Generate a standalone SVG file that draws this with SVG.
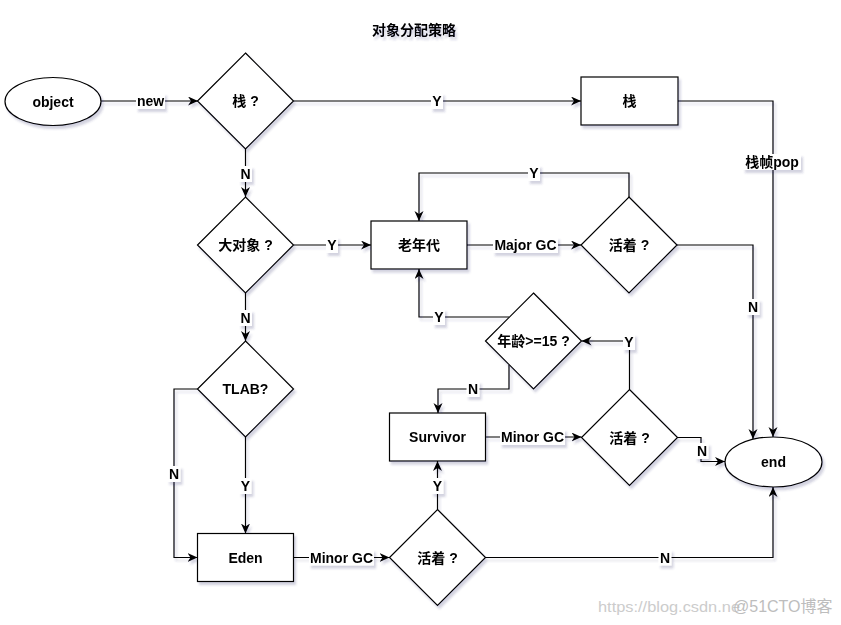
<svg xmlns="http://www.w3.org/2000/svg" width="841" height="625" viewBox="0 0 841 625">
<defs>
<filter id="sh" x="-5%" y="-5%" width="110%" height="110%">
<feDropShadow dx="2" dy="3" stdDeviation="1.2" flood-color="#3a3a70" flood-opacity="0.22"/>
</filter>
<marker id="arr" markerUnits="userSpaceOnUse" markerWidth="11" markerHeight="10" refX="10" refY="4.5" orient="auto">
<path d="M0,0 L10,4.5 L0,9 L3,4.5 Z" fill="#000"/>
</marker>
</defs>
<style>
.n{fill:#fff;stroke:#000;stroke-width:1.2}
.t{font-family:"Liberation Sans","Noto Sans CJK SC",sans-serif;font-size:14px;font-weight:bold;fill:#000;text-anchor:middle;dominant-baseline:central}
.e{fill:none;stroke:#000;stroke-width:1.2;marker-end:url(#arr)}
.lb{fill:#fff}
.wm{font-family:"Liberation Sans","Noto Sans CJK SC",sans-serif;font-size:15px;fill:#cccccc}
</style>
<rect width="841" height="625" fill="#fff"/>
<g filter="url(#sh)">
<text class="t" x="414" y="30">对象分配策略</text>
<g id="connectors">
<path class="e" d="M101,101 H198"/>
<path class="e" d="M293.5,101 H581"/>
<path class="e" d="M678,101 H773 V437"/>
<path class="e" d="M245.5,149 V197"/>
<path class="e" d="M293.5,245 H371"/>
<path class="e" d="M245.5,293 V341"/>
<path class="e" d="M467,245 H581"/>
<path class="e" d="M629,197 V173 H419 V221"/>
<path class="e" d="M677,245 H753 V439"/>
<path class="e" d="M509,317 H419 V269"/>
<path class="e" d="M509,365 V389 H438 V413"/>
<path class="e" d="M485.5,437 H581.5"/>
<path class="e" d="M629.5,389.5 V341 H581.5"/>
<path class="e" d="M677.5,437.5 H701 V461.5 H725"/>
<path class="e" d="M197.5,389 H174 V557.5 H197.5"/>
<path class="e" d="M245.5,437 V533.5"/>
<path class="e" d="M293.5,557.5 H389.5"/>
<path class="e" d="M437.5,509.5 V461"/>
<path class="e" d="M485.5,557.5 H773 V487"/>
<g id="labels">
<rect class="lb" x="136" y="93" width="29" height="16"/><text class="t" x="150.5" y="101">new</text>
<rect class="lb" x="431" y="93" width="12" height="16"/><text class="t" x="437" y="101">Y</text>
<rect class="lb" x="743" y="154" width="58" height="16"/><text class="t" x="772" y="162">栈帧pop</text>
<rect class="lb" x="239" y="166" width="13" height="16"/><text class="t" x="245.5" y="174">N</text>
<rect class="lb" x="326" y="237" width="12" height="16"/><text class="t" x="332" y="245">Y</text>
<rect class="lb" x="239" y="310" width="13" height="16"/><text class="t" x="245.5" y="318">N</text>
<rect class="lb" x="493" y="237" width="65" height="16"/><text class="t" x="525.5" y="245">Major GC</text>
<rect class="lb" x="528" y="165" width="12" height="16"/><text class="t" x="534" y="173">Y</text>
<rect class="lb" x="746.5" y="299" width="13" height="16"/><text class="t" x="753" y="307">N</text>
<rect class="lb" x="433" y="309" width="12" height="16"/><text class="t" x="439" y="317">Y</text>
<rect class="lb" x="466.5" y="381" width="13" height="16"/><text class="t" x="473" y="389">N</text>
<rect class="lb" x="500" y="429" width="65" height="16"/><text class="t" x="532.5" y="437">Minor GC</text>
<rect class="lb" x="623" y="334" width="12" height="16"/><text class="t" x="629" y="342">Y</text>
<rect class="lb" x="695.5" y="443" width="13" height="16"/><text class="t" x="702" y="451">N</text>
<rect class="lb" x="167.5" y="466" width="13" height="16"/><text class="t" x="174" y="474">N</text>
<rect class="lb" x="239.5" y="478" width="12" height="16"/><text class="t" x="245.5" y="486">Y</text>
<rect class="lb" x="309" y="549.5" width="65" height="16"/><text class="t" x="341.5" y="557.5">Minor GC</text>
<rect class="lb" x="431.5" y="478" width="12" height="16"/><text class="t" x="437.5" y="486">Y</text>
<rect class="lb" x="658.5" y="549.5" width="13" height="16"/><text class="t" x="665" y="557.5">N</text>
</g>
</g>
<g id="object"><ellipse class="n" cx="53" cy="101.5" rx="48" ry="24"/><text class="t" x="53" y="101.5">object</text></g>
<g id="stack-q"><path class="n" d="M245.5,53 L293.5,101 L245.5,149 L197.5,101 Z"/><text class="t" x="245.5" y="101">栈 ?</text></g>
<g id="stack"><rect class="n" x="581" y="77" width="97" height="48"/><text class="t" x="629.5" y="101">栈</text></g>
<g id="big-q"><path class="n" d="M245.5,197 L293.5,245 L245.5,293 L197.5,245 Z"/><text class="t" x="245.5" y="245">大对象 ?</text></g>
<g id="old"><rect class="n" x="371" y="221" width="96" height="48"/><text class="t" x="419" y="245">老年代</text></g>
<g id="alive1"><path class="n" d="M629,197 L677,245 L629,293 L581,245 Z"/><text class="t" x="629" y="245">活着 ?</text></g>
<g id="age-q"><path class="n" d="M533.5,293 L581.5,341 L533.5,389 L485.5,341 Z"/><text class="t" x="533.5" y="341">年龄&gt;=15 ?</text></g>
<g id="survivor"><rect class="n" x="389.5" y="413" width="96" height="48"/><text class="t" x="437.5" y="437">Survivor</text></g>
<g id="alive2"><path class="n" d="M629.5,389.5 L677.5,437.5 L629.5,485.5 L581.5,437.5 Z"/><text class="t" x="629.5" y="437.5">活着 ?</text></g>
<g id="end"><ellipse class="n" cx="773.5" cy="462" rx="48.5" ry="25"/><text class="t" x="773.5" y="462">end</text></g>
<g id="tlab"><path class="n" d="M245.5,341 L293.5,389 L245.5,437 L197.5,389 Z"/><text class="t" x="245.5" y="389">TLAB?</text></g>
<g id="eden"><rect class="n" x="197.5" y="533.5" width="96" height="48"/><text class="t" x="245.5" y="557.5">Eden</text></g>
<g id="alive3"><path class="n" d="M437.5,509.5 L485.5,557.5 L437.5,605.5 L389.5,557.5 Z"/><text class="t" x="437.5" y="557.5">活着 ?</text></g>
</g>
<text class="wm" x="598" y="612" textLength="142" lengthAdjust="spacingAndGlyphs">https://blog.csdn.ne</text>
<text class="wm" x="733" y="612" style="fill:#bdbdbd;font-size:16px">@51CTO博客</text>
</svg>
